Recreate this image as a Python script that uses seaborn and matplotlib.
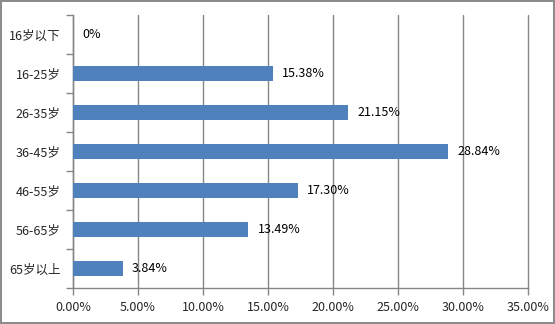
import matplotlib
matplotlib.use("Agg")
import matplotlib.pyplot as plt
import seaborn as sns
import pandas as pd
from matplotlib.ticker import FixedLocator, PercentFormatter

categories = ["16岁以下", "16-25岁", "26-35岁", "36-45岁", "46-55岁", "56-65岁", "65岁以上"]
values = [0.0, 15.38, 21.15, 28.84, 17.30, 13.49, 3.84]
value_labels = ["0%", "15.38%", "21.15%", "28.84%", "17.30%", "13.49%", "3.84%"]

sns.set_theme(style="white")
plt.rcParams["font.family"] = ["Noto Sans CJK SC", "DejaVu Sans"]

df = pd.DataFrame({"age": categories, "share": values})

fig = plt.figure(figsize=(5.55, 3.24), dpi=100)
fig.patch.set_facecolor("white")
fig.patch.set_edgecolor("#8c8c8c")
fig.patch.set_linewidth(1.5)
ax = fig.add_axes([0.1315, 0.111, 0.82, 0.8427])

sns.barplot(data=df, x="share", y="age", orient="h", color="#4F81BD",
            saturation=1, width=0.4, linewidth=0, ax=ax, zorder=3)

ax.set_xlim(0, 35)
ax.set_xticks([0, 5, 10, 15, 20, 25, 30, 35])
ax.xaxis.set_major_formatter(PercentFormatter(xmax=100, decimals=2))
ax.set_ylim(len(categories) - 0.5, -0.5)
ax.set_xlabel("")
ax.set_ylabel("")

ax.grid(axis="x", color="#868686", linewidth=1, zorder=0)
for gl in ax.get_xgridlines():
    gl.set_clip_on(False)
ax.set_axisbelow(True)
for side in ["top", "right"]:
    ax.spines[side].set_visible(False)
for side in ["left", "bottom"]:
    ax.spines[side].set_color("#868686")
    ax.spines[side].set_linewidth(1)

ax.tick_params(axis="x", length=5, width=1, color="#868686", direction="out",
               labelsize=9, pad=4, bottom=True)
ax.tick_params(axis="y", which="major", length=0, labelsize=9, pad=9)
ax.yaxis.set_minor_locator(FixedLocator([i - 0.5 for i in range(len(categories) + 1)]))
ax.tick_params(axis="y", which="minor", length=5, width=1, color="#868686",
               direction="out", left=True)

for i, (v, lab) in enumerate(zip(values, value_labels)):
    ax.text(v + 0.7, i, lab, va="center", ha="left", fontsize=9, color="black")

fig.savefig("out.png", dpi=100)
